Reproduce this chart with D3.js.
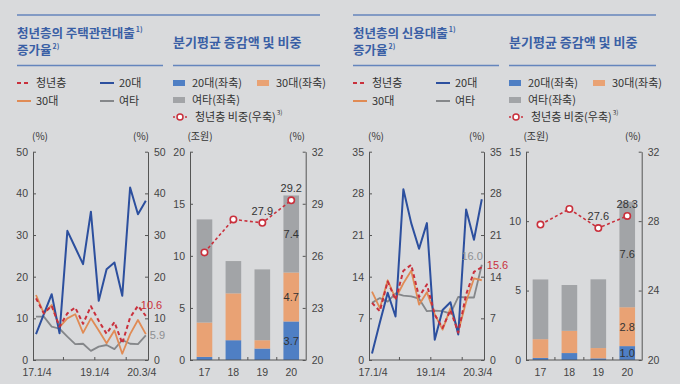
<!DOCTYPE html>
<html>
<head>
<meta charset="utf-8">
<script src="https://cdn.jsdelivr.net/npm/d3@7"></script>
<style>
  body { margin: 0; background: #d9dadc; }
  svg { display: block; font-family: "Noto Sans CJK KR", "Noto Sans", sans-serif; }
  .axis text { font-family: "Liberation Sans Narrow", "Liberation Sans", sans-serif; font-size: 10.5px; fill: #444; }
  .axis path, .axis line { stroke: #555; }
</style>
</head>
<body>
<svg id="chart" width="680" height="384"></svg>
<script>
// DATA
const quarters = ["17.1/4","17.2/4","17.3/4","17.4/4","18.1/4","18.2/4","18.3/4","18.4/4",
  "19.1/4","19.2/4","19.3/4","19.4/4","20.1/4","20.2/4","20.3/4"];
const quarterLabels = ["17.1/4", "19.1/4", "20.3/4"];

// 주택관련대출 증가율 (%)
const housingYouth = [14.8, 11.2, 13, 8, 11.2, 12.6, 8.7, 12.9, 9.4, 6.3, 9.1, 4, 10.2, 13, 10.6];
const housing20s   = [6.2, 11, 15.8, 6.4, 31, 27, 23, 35.6, 14.2, 21.8, 23.4, 15.4, 41.4, 35, 38.2];
const housing30s   = [15.6, 11.2, 13.2, 7.9, 10, 11, 6.5, 10, 7.1, 4, 7.1, 1.5, 6.2, 9.6, 6.2];
const housingOther = [10.4, 10.4, 8, 7.5, 5.6, 3.8, 3.9, 2.2, 3.2, 3.6, 2.6, 4.8, 3.9, 3.8, 5.9];

// 신용대출 증가율 (%)
const creditYouth = [9.6, 8.2, 13.2, 10.1, 15, 16, 10.6, 12.7, 7.6, 5.4, 8.4, 4.6, 11, 14.8, 15.6];
const credit20s   = [1.1, 6.3, 11.3, 7.3, 28.7, 23, 18.7, 23, 3.4, 8.4, 9.7, 4.3, 25.3, 20.2, 27];
const credit30s   = [11.5, 8.7, 13.4, 10.3, 12.9, 15, 9.3, 11.4, 7.7, 5.1, 8.7, 4.8, 9.8, 13.7, 13.4];
const creditOther = [9.6, 10.4, 9.8, 11.2, 10.8, 10.7, 10.3, 8.2, 8.3, 8.2, 7.8, 10.6, 10.5, 10.5, 16];

// 분기평균 증감액 (조원) 및 청년층 비중 (%)
const years = ["17", "18", "19", "20"];
const housingBar20s   = [0.3, 1.9, 1.1, 3.7];
const housingBar30s   = [3.3, 4.5, 0.8, 4.7];
const housingBarOther = [9.9, 3.1, 6.8, 7.4];
const housingShare    = [26.2, 28.1, 27.9, 29.2];

const creditBar20s   = [0.15, 0.5, 0.12, 1.0];
const creditBar30s   = [1.35, 1.6, 0.74, 2.8];
const creditBarOther = [4.3, 3.3, 4.95, 7.6];
const creditShare    = [27.8, 28.7, 27.6, 28.3];

// COLORS
const C = {
  title: "#3a5fa5", rule: "#6485bd", text: "#333",
  red: "#c9303c", blueLine: "#2c4f9e", orangeLine: "#e08b55", grayLine: "#85878a",
  blueBar: "#4f7fc4", orangeBar: "#e9a274", grayBar: "#a2a4a7"
};
const narrow = "Liberation Sans Narrow, Liberation Sans, sans-serif";

const svg = d3.select("#chart");
const top0 = 151.7, base = 360;

function titleText(g, x, y, txt, sup, size) {
  const t = g.append("text").attr("x", x).attr("y", y)
    .attr("fill", C.title).attr("font-weight", "bold").attr("font-size", size).text(txt);
  if (sup) t.append("tspan").attr("font-size", 7).attr("dy", -6).attr("dx", 1).text(sup);
}

function header(ox, title1) {
  const g = svg.append("g");
  g.append("line").attr("x1", ox + 17).attr("x2", ox + 320).attr("y1", 15).attr("y2", 15)
    .attr("stroke", C.rule).attr("stroke-width", 1.5);
  g.append("line").attr("x1", ox + 17).attr("x2", ox + 163).attr("y1", 65.5).attr("y2", 65.5)
    .attr("stroke", C.rule).attr("stroke-width", 1.5);
  g.append("line").attr("x1", ox + 173).attr("x2", ox + 320).attr("y1", 65.5).attr("y2", 65.5)
    .attr("stroke", C.rule).attr("stroke-width", 1.5);
  titleText(g, ox + 17, 37.5, title1, "1)", 12.5);
  titleText(g, ox + 17, 55, "증가율", "2)", 12.5);
  titleText(g, ox + 173, 46.5, "분기평균 증감액 및 비중", null, 13);

  // line legend
  const lg = [
    { x: 17, y: 83, c: C.red, dash: "4,3", t: "청년층" },
    { x: 100, y: 83, c: C.blueLine, dash: null, t: "20대" },
    { x: 17, y: 101, c: C.orangeLine, dash: null, t: "30대" },
    { x: 100, y: 101, c: C.grayLine, dash: null, t: "여타" }
  ];
  lg.forEach(d => {
    g.append("line").attr("x1", ox + d.x).attr("x2", ox + d.x + 14).attr("y1", d.y).attr("y2", d.y)
      .attr("stroke", d.c).attr("stroke-width", 2).attr("stroke-dasharray", d.dash);
    g.append("text").attr("x", ox + d.x + 19).attr("y", d.y + 4).attr("font-size", 11)
      .attr("fill", C.text).text(d.t);
  });

  // bar legend
  const bl = [
    { x: 173, y: 83, c: C.blueBar, t: "20대(좌축)" },
    { x: 257, y: 83, c: C.orangeBar, t: "30대(좌축)" },
    { x: 173, y: 100, c: C.grayBar, t: "여타(좌축)" }
  ];
  bl.forEach(d => {
    g.append("rect").attr("x", ox + d.x).attr("y", d.y - 3).attr("width", 12).attr("height", 6).attr("fill", d.c);
    g.append("text").attr("x", ox + d.x + 19).attr("y", d.y + 4).attr("font-size", 11)
      .attr("fill", C.text).text(d.t);
  });
  g.append("line").attr("x1", ox + 173).attr("x2", ox + 187).attr("y1", 117).attr("y2", 117)
    .attr("stroke", C.red).attr("stroke-width", 1.5).attr("stroke-dasharray", "2,2");
  g.append("circle").attr("cx", ox + 180).attr("cy", 117).attr("r", 3)
    .attr("fill", "#fff").attr("stroke", C.red).attr("stroke-width", 1.5);
  const t = g.append("text").attr("x", ox + 195).attr("y", 121).attr("font-size", 11)
    .attr("fill", C.text).text("청년층 비중(우축)");
  t.append("tspan").attr("font-size", 6.5).attr("dy", -6).attr("dx", 1).text("3)");

  // unit labels
  const units = [[40, "(%)"], [141, "(%)"], [200, "(조원)"], [297, "(%)"]];
  units.forEach(u => g.append("text").attr("x", ox + u[0]).attr("y", 139.5).attr("text-anchor", "middle")
    .attr("font-size", 10).attr("fill", C.text).text(u[1]));
}

function linePanel(ox, cfg) {
  const x0 = ox + 33, x1 = ox + 148;
  const x = d3.scalePoint().domain(quarters).range([ox + 36, ox + 145.8]);
  const y = d3.scaleLinear().domain([0, cfg.max]).range([base, top0]);
  const g = svg.append("g");

  g.append("g").attr("class", "axis").attr("transform", `translate(${x0},0)`)
    .call(d3.axisLeft(y).tickValues(cfg.ticks).tickSize(-3).tickSizeOuter(0).tickPadding(5));
  g.append("g").attr("class", "axis").attr("transform", `translate(${x1},0)`)
    .call(d3.axisRight(y).tickValues(cfg.ticks).tickSize(-3).tickSizeOuter(0).tickPadding(6));

  // x axis: baseline with year-boundary ticks
  g.append("line").attr("x1", x0).attr("x2", x1).attr("y1", base).attr("y2", base).attr("stroke", "#555");
  [3, 7, 11].forEach(i => {
    const bx = (x(quarters[i]) + x(quarters[i + 1])) / 2;
    g.append("line").attr("x1", bx).attr("x2", bx).attr("y1", base).attr("y2", base - 3).attr("stroke", "#555");
  });
  const lblX = [x(quarters[0]) + 1, (x(quarters[7]) + x(quarters[8])) / 2, x(quarters[14]) - 4];
  quarterLabels.forEach((q, i) => g.append("text").attr("x", lblX[i]).attr("y", 375.5)
    .attr("text-anchor", "middle").attr("font-family", narrow)
    .attr("font-size", 10.5).attr("fill", "#444").text(q));

  const line = d3.line().x((d, i) => x(quarters[i])).y(d => y(d));
  const series = [
    { v: cfg.other, c: C.grayLine, w: 1.8, dash: null },
    { v: cfg.s30, c: C.orangeLine, w: 1.8, dash: null },
    { v: cfg.s20, c: C.blueLine, w: 2, dash: null },
    { v: cfg.youth, c: C.red, w: 2, dash: "4,3" }
  ];
  series.forEach(s => g.append("path").datum(s.v).attr("d", line).attr("fill", "none")
    .attr("stroke", s.c).attr("stroke-width", s.w).attr("stroke-dasharray", s.dash)
    .attr("stroke-linejoin", "round"));

  cfg.endLabels.forEach(l => {
    const v = l.series[l.series.length - 1];
    g.append("text").attr("x", x(quarters[14]) + l.dx).attr("y", y(v) + l.dy)
      .attr("text-anchor", l.anchor).attr("font-family", narrow)
      .attr("font-size", 11).attr("fill", l.c).text(v.toFixed(1));
  });
}

function barPanel(ox, cfg) {
  const x0 = ox + 190, x1 = ox + 305.7;
  const x = d3.scaleBand().domain(years).range([x0, x1]).paddingInner(0.46).paddingOuter(0.23);
  const yL = d3.scaleLinear().domain([0, cfg.maxL]).range([base, top0]);
  const yR = d3.scaleLinear().domain([20, 32]).range([base, top0]);
  const g = svg.append("g");

  g.append("g").attr("class", "axis").attr("transform", `translate(${x0},0)`)
    .call(d3.axisLeft(yL).tickValues(cfg.ticksL).tickSize(-3).tickSizeOuter(0).tickPadding(5));
  g.append("g").attr("class", "axis").attr("transform", `translate(${x1},0)`)
    .call(d3.axisRight(yR).tickValues(cfg.ticksR).tickSize(-3).tickSizeOuter(0).tickPadding(6));

  const table = years.map((yr, i) => ({ yr, a: cfg.b20[i], b: cfg.b30[i], c: cfg.other[i] }));
  const stack = d3.stack().keys(["a", "b", "c"])(table);
  const fills = [C.blueBar, C.orangeBar, C.grayBar];
  stack.forEach((layer, k) => {
    g.selectAll(null).data(layer).join("rect")
      .attr("x", d => x(d.data.yr)).attr("width", x.bandwidth())
      .attr("y", d => yL(d[1])).attr("height", d => yL(d[0]) - yL(d[1]))
      .attr("fill", fills[k]);
  });

  // segment labels for the last bar
  stack.forEach(layer => {
    const d = layer[3];
    g.append("text").attr("x", x(d.data.yr) + x.bandwidth() / 2).attr("y", yL((d[0] + d[1]) / 2) + 4)
      .attr("text-anchor", "middle").attr("font-family", narrow)
      .attr("font-size", 11).attr("fill", "#333").text((d[1] - d[0]).toFixed(1));
  });

  // x axis
  g.append("line").attr("x1", x0).attr("x2", x1).attr("y1", base).attr("y2", base).attr("stroke", "#555");
  years.slice(1).forEach(yr => {
    const bx = x(yr) - x.step() * x.paddingInner() / 2;
    g.append("line").attr("x1", bx).attr("x2", bx).attr("y1", base).attr("y2", base - 3).attr("stroke", "#555");
  });
  years.forEach(yr => g.append("text").attr("x", x(yr) + x.bandwidth() / 2).attr("y", 375.5)
    .attr("text-anchor", "middle").attr("font-family", narrow)
    .attr("font-size", 10.5).attr("fill", "#444").text(yr));

  // share line (right axis)
  const cx = yr => x(yr) + x.bandwidth() / 2;
  const line = d3.line().x((d, i) => cx(years[i])).y(d => yR(d));
  g.append("path").datum(cfg.share).attr("d", line).attr("fill", "none")
    .attr("stroke", C.red).attr("stroke-width", 1.6).attr("stroke-dasharray", "3,2.5");
  g.selectAll(null).data(cfg.share).join("circle")
    .attr("cx", (d, i) => cx(years[i])).attr("cy", d => yR(d)).attr("r", 3.2)
    .attr("fill", "#fff").attr("stroke", C.red).attr("stroke-width", 1.6);
  [2, 3].forEach(i => g.append("text").attr("x", cx(years[i])).attr("y", yR(cfg.share[i]) - 8)
    .attr("text-anchor", "middle").attr("font-family", narrow)
    .attr("font-size", 11).attr("fill", "#333").text(cfg.share[i].toFixed(1)));
}

// LEFT: 주택관련대출
header(0, "청년층의 주택관련대출");
linePanel(0, {
  max: 50, ticks: [0, 10, 20, 30, 40, 50],
  youth: housingYouth, s20: housing20s, s30: housing30s, other: housingOther,
  endLabels: [
    { series: housingYouth, c: C.red, dx: -5, dy: -7, anchor: "start" },
    { series: housingOther, c: "#8d8f92", dx: 4, dy: 4, anchor: "start" }
  ]
});
barPanel(0, {
  maxL: 20, ticksL: [0, 5, 10, 15, 20], ticksR: [20, 23, 26, 29, 32],
  b20: housingBar20s, b30: housingBar30s, other: housingBarOther, share: housingShare
});

// RIGHT: 신용대출
header(336, "청년층의 신용대출");
linePanel(336, {
  max: 35, ticks: [0, 7, 14, 21, 28, 35],
  youth: creditYouth, s20: credit20s, s30: credit30s, other: creditOther,
  endLabels: [
    { series: creditOther, c: "#8d8f92", dx: 1, dy: -5, anchor: "end" },
    { series: creditYouth, c: C.red, dx: 5, dy: 2, anchor: "start" }
  ]
});
barPanel(336, {
  maxL: 15, ticksL: [0, 5, 10, 15], ticksR: [20, 24, 28, 32],
  b20: creditBar20s, b30: creditBar30s, other: creditBarOther, share: creditShare
});
</script>
</body>
</html>
